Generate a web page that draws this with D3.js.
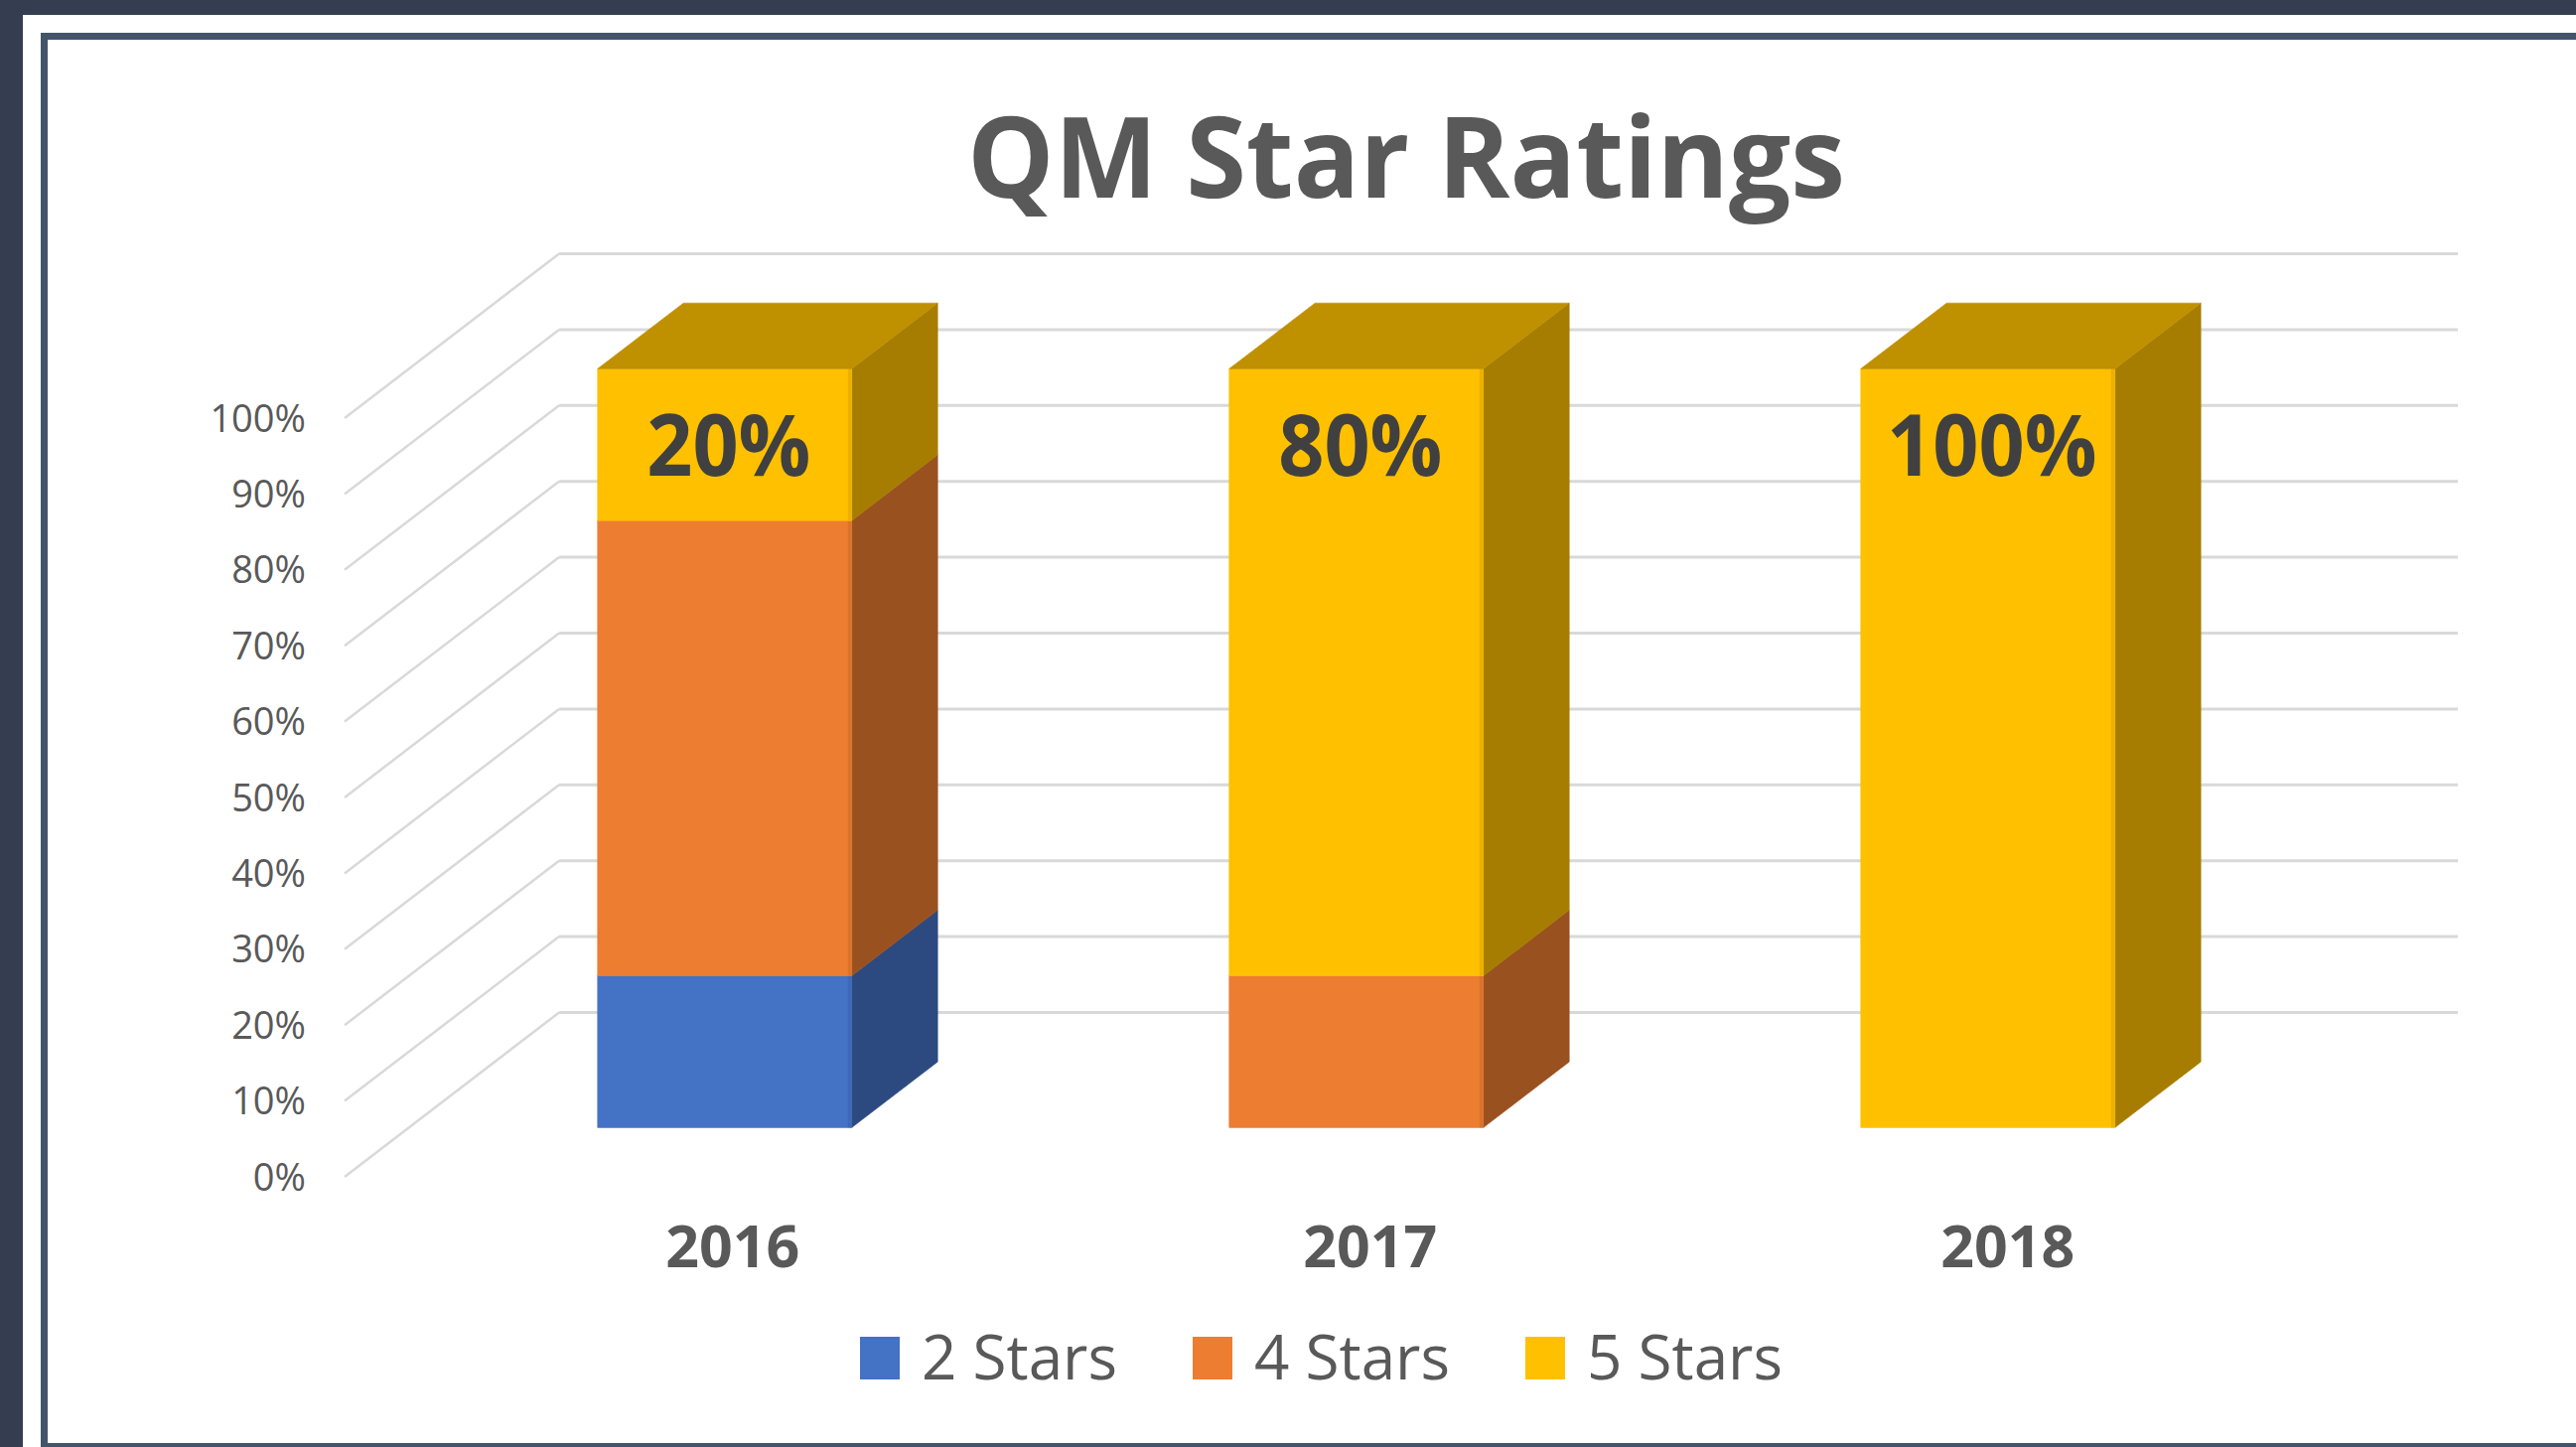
<!DOCTYPE html>
<html>
<head>
<meta charset="utf-8">
<script src="https://cdn.jsdelivr.net/npm/d3@7"></script>
<style>
    html, body { margin: 0; padding: 0; background: #fff; overflow: hidden; }
    svg { display: block; }
    text { font-family: "Open Sans", Lato, sans-serif; }
</style>
</head>
<body>
<div id="chart"></div>
<script>
// data
const categories = ["2016", "2017", "2018"];
const seriesNames = ["2 Stars", "4 Stars", "5 Stars"];
const twoStars = [0.2, 0, 0];
const fourStars = [0.6, 0.2, 0];
const fiveStars = [0.2, 0.8, 1.0];
const yTicks = [0, 0.1, 0.2, 0.3, 0.4, 0.5, 0.6, 0.7, 0.8, 0.9, 1.0];
const chartTitle = "QM Star Ratings";
const seriesColors = ["#4472C4", "#ED7D31", "#FFC000"];

const width = 2594;
const height = 1457;

// oblique 3D: depth vector of the whole floor, bars sit between zFront and zBack
const depth = { dx: 216, dy: -165.5 };
const zFront = 0.3;
const zBack = 0.7;

const rows = categories.map((c, i) => ({
    cat: c,
    "2 Stars": twoStars[i],
    "4 Stars": fourStars[i],
    "5 Stars": fiveStars[i]
}));

const x = d3.scaleBand()
    .domain(categories)
    .range([347, 2255])
    .paddingInner(0.5975)
    .paddingOuter(0.29875);

const y = d3.scaleLinear().domain([0, 1]).range([1185, 421]);

const color = d3.scaleOrdinal().domain(seriesNames).range(seriesColors);

function shade(c, k) {
    const r = d3.rgb(c);
    return d3.rgb(r.r * k, r.g * k, r.b * k).formatHex();
}

// project a front-plane point back by z (0..1 of the floor depth)
function P(px, py, z) {
    return [px + z * depth.dx, py + z * depth.dy];
}

function poly(pts) {
    return pts.map(p => p.join(",")).join(" ");
}

const svg = d3.select("#chart")
    .append("svg")
    .attr("width", width)
    .attr("height", height);

// frame
svg.append("rect").attr("width", width).attr("height", height).attr("fill", "#343E50");
svg.append("rect").attr("x", 23).attr("y", 15).attr("width", width).attr("height", height).attr("fill", "#fff");
svg.append("rect")
    .attr("x", 44.5).attr("y", 36.5)
    .attr("width", width).attr("height", 1420)
    .attr("fill", "#fff")
    .attr("stroke", "#44546A")
    .attr("stroke-width", 7);

// title
svg.append("text")
    .attr("x", 1416)
    .attr("y", 199)
    .attr("text-anchor", "middle")
    .attr("font-size", 113)
    .attr("font-weight", "bold")
    .attr("fill", "#595959")
    .attr("textLength", 884)
    .attr("lengthAdjust", "spacingAndGlyphs")
    .text(chartTitle);

// gridlines: back wall + side wall diagonals
const [xr0, xr1] = x.range();
const grid = svg.append("g");
grid.selectAll("line.back")
    .data(yTicks)
    .join("line")
    .attr("class", "back")
    .attr("x1", d => P(xr0, y(d), 1)[0])
    .attr("y1", d => P(xr0, y(d), 1)[1])
    .attr("x2", d => P(xr1, y(d), 1)[0] + 4)
    .attr("y2", d => P(xr1, y(d), 1)[1])
    .attr("stroke", "#D9D9D9")
    .attr("stroke-width", 3);
grid.selectAll("line.side")
    .data(yTicks)
    .join("line")
    .attr("class", "side")
    .attr("x1", d => P(xr0, y(d), 0)[0])
    .attr("y1", d => P(xr0, y(d), 0)[1])
    .attr("x2", d => P(xr0, y(d), 1)[0])
    .attr("y2", d => P(xr0, y(d), 1)[1])
    .attr("stroke", "#D9D9D9")
    .attr("stroke-width", 2.5);

// y tick labels
svg.append("g")
    .selectAll("text")
    .data(yTicks)
    .join("text")
    .attr("x", 308)
    .attr("y", d => y(d))
    .attr("dy", "0.36em")
    .attr("text-anchor", "end")
    .attr("font-size", 38)
    .attr("fill", "#595959")
    .text(d3.format(".0%"));

// bars
const stacked = d3.stack().keys(seriesNames)(rows);
const topKey = {};
stacked.forEach(layer => layer.forEach(d => {
    if (d[1] - d[0] > 0) topKey[d.data.cat] = layer.key;
}));

const bars = svg.append("g");
stacked.forEach(layer => {
    const c = color(layer.key);
    const g = bars.append("g").attr("class", "series");
    layer.filter(d => d[1] - d[0] > 0).forEach(d => {
        const x0 = x(d.data.cat);
        const x1 = x0 + x.bandwidth();
        const yb = y(d[0]);
        const yt = y(d[1]);

        // right side face
        g.append("polygon")
            .attr("points", poly([P(x1, yt, zFront), P(x1, yt, zBack), P(x1, yb, zBack), P(x1, yb, zFront)]))
            .attr("fill", shade(c, 0.65))
            .attr("stroke", shade(c, 0.65))
            .attr("stroke-width", 0.6);

        // front face
        const f0 = P(x0, yt, zFront);
        g.append("rect")
            .attr("x", f0[0])
            .attr("y", f0[1])
            .attr("width", x.bandwidth())
            .attr("height", yb - yt)
            .attr("fill", c)
            .attr("stroke", c)
            .attr("stroke-width", 0.6);
        g.append("line")
            .attr("x1", P(x1, yt, zFront)[0] - 2)
            .attr("y1", P(x1, yt, zFront)[1])
            .attr("x2", P(x1, yb, zFront)[0] - 2)
            .attr("y2", P(x1, yb, zFront)[1])
            .attr("stroke", shade(c, 0.92))
            .attr("stroke-width", 4);

        // top face for the highest segment
        if (topKey[d.data.cat] === layer.key) {
            g.append("polygon")
                .attr("points", poly([P(x0, yt, zFront), P(x0, yt, zBack), P(x1, yt, zBack), P(x1, yt, zFront)]))
                .attr("fill", shade(c, 0.75))
                .attr("stroke", shade(c, 0.75))
                .attr("stroke-width", 0.6);
        }
    });
});

// data labels for 5 Stars
const fiveLayer = stacked.find(l => l.key === "5 Stars");
svg.append("g")
    .selectAll("text")
    .data(fiveLayer.filter(d => d[1] - d[0] > 0))
    .join("text")
    .attr("x", d => P(x(d.data.cat) + x.bandwidth() / 2, 0, zFront)[0] + 4)
    .attr("y", d => P(0, y(d[1]), zFront)[1] + 108)
    .attr("text-anchor", "middle")
    .attr("font-size", 86)
    .attr("font-weight", "bold")
    .attr("fill", "#404040")
    .attr("transform-origin", "0 0")
    .each(function () {
        const t = d3.select(this);
        // narrow the glyphs a bit, keeping the centre in place
        const cx = +t.attr("x");
        t.attr("transform", `translate(${cx},0) scale(0.94,1) translate(${-cx},0)`);
    })
    .text(d => d3.format(".0%")(d[1] - d[0]));

// category labels
svg.append("g")
    .selectAll("text")
    .data(categories)
    .join("text")
    .attr("x", d => P(x(d) + x.bandwidth() / 2, 0, 0.365)[0] + (categories.indexOf(d) - 1) * 6)
    .attr("y", 1276)
    .attr("text-anchor", "middle")
    .attr("font-size", 59)
    .attr("font-weight", "bold")
    .attr("fill", "#595959")
    .text(d => d);

// legend
const legend = svg.append("g")
    .selectAll("g")
    .data(seriesNames)
    .join("g")
    .attr("transform", (d, i) => `translate(${866 + i * 335},1346)`);
legend.append("rect")
    .attr("width", 40)
    .attr("height", 43)
    .attr("fill", d => color(d));
legend.append("text")
    .attr("x", 62)
    .attr("y", 43)
    .attr("font-size", 62)
    .attr("fill", "#595959")
    .text(d => d);
</script>
</body>
</html>
